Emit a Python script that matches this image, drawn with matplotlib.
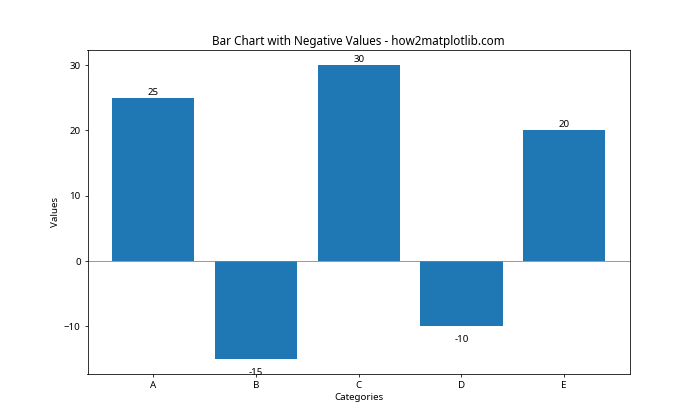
import matplotlib
matplotlib.use('Agg')
import matplotlib.pyplot as plt

plt.rcParams['font.family'] = ['Noto Sans', 'DejaVu Sans']

categories = ['A', 'B', 'C', 'D', 'E']
values = [25, -15, 30, -10, 20]

fig, ax = plt.subplots(figsize=(10, 6), dpi=70)
bars = ax.bar(categories, values)

ax.axhline(0, color='grey', linewidth=0.8)

for bar, v in zip(bars, values):
    x = bar.get_x() + bar.get_width() / 2
    if v >= 0:
        ax.annotate(f'{v}', (x, v), xytext=(0, 1), textcoords='offset points',
                    ha='center', va='bottom')
    else:
        ax.annotate(f'{v}', (x, v), xytext=(0, -9), textcoords='offset points',
                    ha='center', va='top')

ax.set_title('Bar Chart with Negative Values - how2matplotlib.com')
ax.set_xlabel('Categories')
ax.set_ylabel('Values')

fig.savefig('out.png')
